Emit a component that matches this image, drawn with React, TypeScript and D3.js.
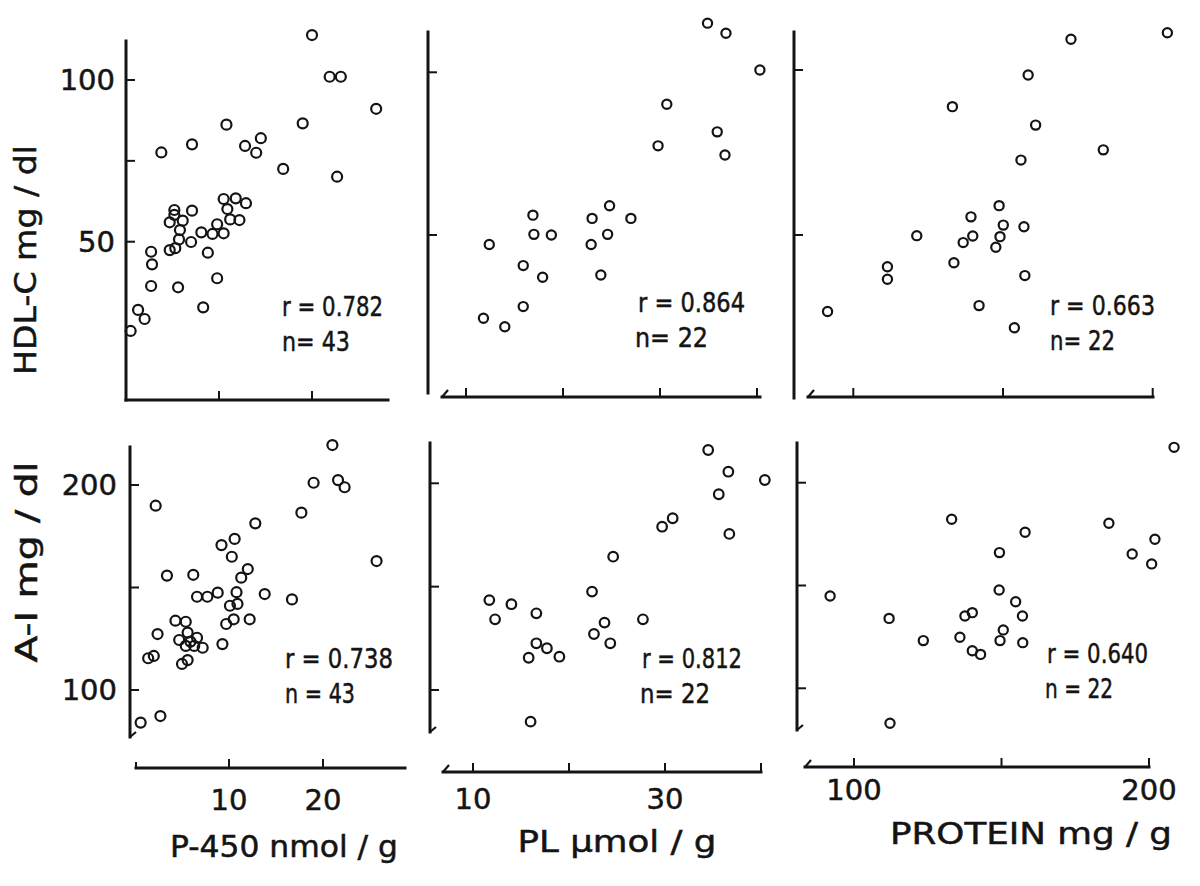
import React from 'react';
import * as d3 from 'd3';

// ---------- DATA ----------
// HDL-C vs P-450
const hdlP450X = [20.0, 21.9, 23.1, 26.9, 19.0, 10.8, 7.1, 3.8, 12.8, 14.5, 14.0, 16.9, 22.7, 10.5, 11.8, 12.9, 10.9, 11.2, 12.2, 5.2, 7.1, 4.7, 6.1, 5.8, 5.7, 7.0, 8.1, 9.3, 9.8, 10.5, 4.7, 5.3, 8.8, 2.7, 2.8, 2.7, 5.6, 9.8, 8.3, 1.3, 2.0, 0.5, 5.2];
const hdlP450Y = [113.9, 101.0, 101.0, 91.1, 86.6, 86.2, 80.1, 77.6, 79.6, 82.0, 77.5, 72.5, 70.1, 63.2, 63.4, 61.9, 60.1, 56.9, 56.7, 59.8, 59.6, 56.0, 56.5, 53.6, 50.7, 49.9, 52.9, 52.4, 55.4, 52.6, 47.4, 48.0, 46.6, 46.9, 43.0, 36.3, 35.9, 38.7, 29.7, 28.9, 26.1, 22.4, 58.3];
// HDL-C vs PL
const hdlPlX = [34.9, 36.8, 40.3, 30.7, 35.9, 29.8, 36.7, 24.8, 27.0, 23.0, 16.9, 17.0, 18.8, 24.6, 22.9, 12.4, 15.9, 17.9, 23.9, 15.9, 11.8, 14.0];
const hdlPlY = [115.1, 112.0, 100.7, 90.2, 81.7, 77.4, 74.6, 59.0, 55.1, 55.1, 56.1, 50.2, 50.0, 50.2, 47.1, 47.1, 40.6, 37.0, 37.7, 28.0, 24.4, 21.8];
// HDL-C vs PROTEIN
const hdlProtX = [204.9, 172.7, 158.4, 133.1, 160.9, 183.5, 156.0, 148.7, 139.3, 150.1, 157.0, 121.2, 139.9, 149.0, 136.7, 147.6, 133.6, 111.4, 111.4, 157.3, 142.0, 91.4, 153.8];
const hdlProtY = [111.3, 109.3, 98.5, 88.9, 83.3, 75.8, 72.7, 58.9, 55.5, 53.0, 52.5, 49.8, 49.7, 49.5, 47.7, 46.3, 41.6, 40.4, 36.6, 37.7, 28.6, 26.8, 21.9];
// A-I vs P-450
const aiP450X = [21.0, 19.0, 21.6, 22.3, 2.2, 17.7, 12.8, 10.6, 9.2, 10.3, 25.7, 12.0, 11.3, 3.4, 6.2, 8.8, 7.7, 6.6, 10.8, 13.8, 16.7, 10.9, 10.1, 10.5, 9.7, 12.2, 4.3, 5.4, 5.6, 2.4, 4.7, 6.6, 5.4, 6.3, 7.2, 9.3, 1.4, 2.0, 5.0, 5.6, 2.7, 0.6, 5.9];
const aiP450Y = [219.5, 201.1, 202.4, 198.9, 189.9, 186.5, 181.3, 173.7, 170.7, 165.0, 162.9, 159.0, 154.8, 155.8, 156.2, 147.5, 145.5, 145.5, 147.7, 146.8, 144.2, 142.0, 141.1, 134.5, 132.2, 134.5, 133.8, 133.3, 128.0, 127.3, 124.4, 125.5, 121.5, 121.5, 120.6, 122.4, 115.5, 116.6, 112.7, 114.6, 87.3, 84.1, 123.6];
// A-I vs PL
const aiPlX = [34.5, 36.6, 40.4, 35.6, 30.8, 29.7, 36.7, 24.6, 22.4, 11.7, 14.0, 12.3, 16.6, 27.7, 23.7, 22.6, 24.3, 16.6, 17.7, 15.8, 19.0, 16.0];
const aiPlY = [216.1, 205.6, 201.6, 194.7, 183.1, 179.0, 175.5, 164.5, 147.6, 143.5, 141.5, 134.2, 137.1, 134.2, 132.6, 127.1, 122.6, 122.6, 120.2, 115.6, 116.1, 84.7];
// A-I vs PROTEIN
const aiProtX = [208.5, 133.1, 186.4, 158.0, 202.0, 149.3, 194.3, 200.9, 91.9, 149.2, 154.8, 140.1, 137.6, 157.1, 111.9, 150.6, 135.9, 123.5, 149.5, 157.2, 140.1, 142.9, 112.2];
const aiProtY = [217.2, 182.2, 180.3, 175.9, 172.5, 166.0, 165.3, 160.5, 144.9, 147.8, 142.1, 136.8, 135.2, 135.2, 134.0, 128.4, 124.8, 123.2, 123.2, 122.2, 118.3, 116.5, 83.0];

// statistics text
const rValues = ['0.782', '0.864', '0.663', '0.738', '0.812', '0.640'];
const nValues = ['43', '22', '22', '43', '22', '22'];

// tick values
const p450Ticks = [10, 20];
const plTicks = [10, 20, 30, 40];
const protTicks = [100, 150, 200];
const p450TickLabels = [10, 20];
const plTickLabels = [10, 30];
const protTickLabels = [100, 200];
const hdlTicksLeft = [50, 75, 100];
const hdlTicks = [50, 100];
const hdlTickLabels = [50, 100];
const aiTicks = [100, 150, 200];
const aiTickLabels = [100, 200];

const xTitles = ['P-450  nmol / g', 'PL  μmol / g', 'PROTEIN  mg / g'];
const yTitles = ['HDL-C  mg / dl', 'A-I  mg / dl'];

// ---------- LAYOUT ----------
const INK = '#141414';
const FONT = '"DejaVu Sans", sans-serif';

type Panel = {
  xs: number[]; ys: number[];
  xCal: [number, number, number, number]; // v1, px1, v2, px2
  yCal: [number, number, number, number];
  axX: number; axTop: number; axBottom: number;
  axY: number; axLeft: number; axRight: number;
  corner: boolean; hook: boolean; foot: boolean;
  xTicks: number[]; yTicks: number[];
  xLabels: number[]; yLabels: number[];
  xLabelBase: number; yLabelRight: number;
  r: number; stat: number;
  rPos: [number, number, number]; nPos: [number, number, number];
  nSep: string;
};

const panels: Panel[] = [
  {
    xs: hdlP450X, ys: hdlP450Y, xCal: [10, 219, 20, 312], yCal: [50, 241.7, 100, 80],
    axX: 126, axTop: 41, axBottom: 400, axY: 400, axLeft: 126, axRight: 388,
    corner: true, hook: false, foot: false,
    xTicks: p450Ticks, yTicks: hdlTicksLeft, xLabels: [], yLabels: hdlTickLabels,
    xLabelBase: 0, yLabelRight: 115, r: 5, stat: 0,
    rPos: [282, 316, 101], nPos: [282, 351, 68], nSep: 'n= ',
  },
  {
    xs: hdlPlX, ys: hdlPlY, xCal: [10, 466, 30, 660], yCal: [50, 235, 100, 72.3],
    axX: 428, axTop: 32, axBottom: 393, axY: 397, axLeft: 442, axRight: 760,
    corner: false, hook: true, foot: false,
    xTicks: plTicks, yTicks: hdlTicks, xLabels: [], yLabels: [],
    xLabelBase: 0, yLabelRight: 0, r: 4.6, stat: 1,
    rPos: [638, 312, 107], nPos: [635, 347, 73], nSep: 'n= ',
  },
  {
    xs: hdlProtX, ys: hdlProtY, xCal: [100, 853.3, 200, 1152.7], yCal: [50, 235, 100, 70],
    axX: 794, axTop: 32, axBottom: 398, axY: 397, axLeft: 808, axRight: 1153,
    corner: false, hook: true, foot: false,
    xTicks: protTicks, yTicks: hdlTicks, xLabels: [], yLabels: [],
    xLabelBase: 0, yLabelRight: 0, r: 4.6, stat: 2,
    rPos: [1050, 315, 105], nPos: [1050, 350, 65], nSep: 'n= ',
  },
  {
    xs: aiP450X, ys: aiP450Y, xCal: [10, 229, 20, 323], yCal: [100, 690, 200, 485],
    axX: 130, axTop: 447, axBottom: 737, axY: 768, axLeft: 136, axRight: 405,
    corner: false, hook: false, foot: true,
    xTicks: p450Ticks, yTicks: aiTicks, xLabels: p450TickLabels, yLabels: aiTickLabels,
    xLabelBase: 810, yLabelRight: 117, r: 5, stat: 3,
    rPos: [285, 668, 108], nPos: [285, 703, 70], nSep: 'n = ',
  },
  {
    xs: aiPlX, ys: aiPlY, xCal: [10, 473, 30, 665], yCal: [100, 690, 200, 483.3],
    axX: 430, axTop: 443, axBottom: 732, axY: 772, axLeft: 443, axRight: 761,
    corner: false, hook: true, foot: true,
    xTicks: plTicks, yTicks: aiTicks, xLabels: plTickLabels, yLabels: [],
    xLabelBase: 809, yLabelRight: 0, r: 4.8, stat: 4,
    rPos: [642, 668, 100], nPos: [640, 703, 70], nSep: 'n= ',
  },
  {
    xs: aiProtX, ys: aiProtY, xCal: [100, 854, 200, 1149], yCal: [100, 688.3, 200, 482.7],
    axX: 797, axTop: 443, axBottom: 730, axY: 767, axLeft: 805, axRight: 1149,
    corner: false, hook: true, foot: true,
    xTicks: protTicks, yTicks: aiTicks, xLabels: protTickLabels, yLabels: [],
    xLabelBase: 800, yLabelRight: 0, r: 4.6, stat: 5,
    rPos: [1047, 663, 101], nPos: [1045, 698, 68], nSep: 'n = ',
  },
];

const xTitlePos: [number, number, number][] = [
  [284, 857, 228],
  [617, 852, 199],
  [1031, 844, 282],
];
const yTitlePos: [number, number, number][] = [
  [36, 260, 230],
  [37, 562, 201],
];

const textStyle = { fontFamily: FONT, fill: INK, stroke: INK, strokeWidth: 0.5 };

function PanelView({ p }: { p: Panel }) {
  const x = d3.scaleLinear().domain([p.xCal[0], p.xCal[2]]).range([p.xCal[1], p.xCal[3]]);
  const y = d3.scaleLinear().domain([p.yCal[0], p.yCal[2]]).range([p.yCal[1], p.yCal[3]]);
  const tickLen = 9;
  return (
    <g>
      {/* y axis */}
      <line x1={p.axX} x2={p.axX} y1={p.axTop} y2={p.axBottom} stroke={INK} strokeWidth={3} strokeLinecap="square" />
      {p.foot && (
        <line x1={p.axX} y1={p.axBottom} x2={p.axX + 6} y2={p.axBottom - 5} stroke={INK} strokeWidth={2.2} />
      )}
      {p.yTicks.map((t) => (
        <line key={'yt' + t} x1={p.axX} x2={p.axX + tickLen} y1={y(t)} y2={y(t)} stroke={INK} strokeWidth={2} />
      ))}
      {p.yLabels.map((t) => (
        <text key={'yl' + t} x={p.yLabelRight} y={y(t)} dy="0.36em" textAnchor="end"
          fontSize={29} {...textStyle}>{t}</text>
      ))}
      {/* x axis */}
      <line x1={p.corner ? p.axX : p.axLeft} x2={p.axRight} y1={p.axY} y2={p.axY} stroke={INK} strokeWidth={3} strokeLinecap="square" />
      {p.hook && (
        <line x1={p.axLeft} y1={p.axY} x2={p.axLeft + 6} y2={p.axY - 7} stroke={INK} strokeWidth={2.2} />
      )}
      {!p.hook && !p.corner && (
        <line x1={p.axLeft} y1={p.axY} x2={p.axLeft} y2={p.axY - 6} stroke={INK} strokeWidth={2} />
      )}
      {p.xTicks.map((t) => (
        <line key={'xt' + t} x1={x(t)} x2={x(t)} y1={p.axY} y2={p.axY - tickLen} stroke={INK} strokeWidth={2} />
      ))}
      {p.xLabels.map((t) => (
        <text key={'xl' + t} x={x(t)} y={p.xLabelBase} textAnchor="middle"
          fontSize={29} {...textStyle}>{t}</text>
      ))}
      {/* points */}
      {p.xs.map((v, i) => (
        <circle key={'c' + i} cx={x(v)} cy={y(p.ys[i])} r={p.r} fill="none" stroke={INK} strokeWidth={2.2} />
      ))}
      {/* stats */}
      <text x={p.rPos[0]} y={p.rPos[1]} textLength={p.rPos[2]} lengthAdjust="spacingAndGlyphs"
        fontSize={27} {...textStyle}>{'r = ' + rValues[p.stat]}</text>
      <text x={p.nPos[0]} y={p.nPos[1]} textLength={p.nPos[2]} lengthAdjust="spacingAndGlyphs"
        fontSize={27} {...textStyle}>{p.nSep + nValues[p.stat]}</text>
    </g>
  );
}

export default function App() {
  return (
    <svg width={1200} height={886} viewBox="0 0 1200 886"
      style={{ position: 'absolute', left: 0, top: 0, background: '#ffffff' }}>
      <rect x={0} y={0} width={1200} height={886} fill="#ffffff" />
      {panels.map((p, i) => <PanelView key={i} p={p} />)}
      {xTitles.map((t, i) => (
        <text key={'xt' + i} x={xTitlePos[i][0]} y={xTitlePos[i][1]} textAnchor="middle"
          textLength={xTitlePos[i][2]} lengthAdjust="spacingAndGlyphs"
          fontSize={30} {...textStyle}>{t}</text>
      ))}
      {yTitles.map((t, i) => (
        <text key={'yt' + i} transform={`translate(${yTitlePos[i][0]},${yTitlePos[i][1]}) rotate(-90)`}
          textAnchor="middle" textLength={yTitlePos[i][2]} lengthAdjust="spacingAndGlyphs"
          fontSize={30} {...textStyle}>{t}</text>
      ))}
    </svg>
  );
}
